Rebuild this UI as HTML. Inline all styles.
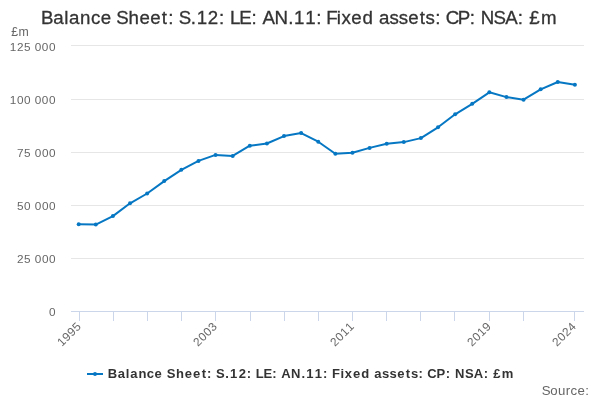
<!DOCTYPE html>
<html><head><meta charset="utf-8"><style>
html,body{margin:0;padding:0;background:#fff;width:600px;height:400px;overflow:hidden}
svg{display:block;will-change:transform}
text{font-family:"Liberation Sans",sans-serif}
</style></head><body>
<svg width="600" height="400" viewBox="0 0 600 400">
<rect width="600" height="400" fill="#fff"/>
<text x="40.88 53.36 64.33 69.06 80.04 90.99 100.74 111.55 116.31 128.53 139.54 150.37 161.86 168.28 174.05 178.81 190.84 196.65 207.86 219.03 224.81 229.92 239.35 251.53 257.30 262.49 274.59 288.13 293.95 305.16 316.33 322.10 326.22 336.73 341.53 351.36 362.38 373.37 378.97 389.49 398.67 408.16 419.64 425.61 435.24 441.01 445.81 457.80 469.72 475.48 480.72 493.59 505.22 517.70 523.47 529.28 540.88" y="23.9" font-size="18.69" fill="#333" stroke="#333" stroke-width="0.3">Balance Sheet: S.12: LE: AN.11: Fixed assets: CP: NSA: £m</text>
<text x="11.31 18.58" y="35.9" font-size="12.30" fill="#666">£m</text>
<g fill="none" stroke="#e6e6e6" stroke-width="1"><path d="M71 45.5 L584 45.5"/><path d="M71 99.5 L584 99.5"/><path d="M71 152.5 L584 152.5"/><path d="M71 205.5 L584 205.5"/><path d="M71 258.5 L584 258.5"/></g>
<g fill="none" stroke="#ccd6eb" stroke-width="1"><path d="M71 311.5 L584 311.5"/><path d="M79.5 311 L79.5 321"/><path d="M113.5 311 L113.5 321"/><path d="M147.5 311 L147.5 321"/><path d="M181.5 311 L181.5 321"/><path d="M215.5 311 L215.5 321"/><path d="M250.5 311 L250.5 321"/><path d="M284.5 311 L284.5 321"/><path d="M318.5 311 L318.5 321"/><path d="M352.5 311 L352.5 321"/><path d="M386.5 311 L386.5 321"/><path d="M420.5 311 L420.5 321"/><path d="M454.5 311 L454.5 321"/><path d="M489.5 311 L489.5 321"/><path d="M523.5 311 L523.5 321"/><path d="M574.5 311 L574.5 321"/></g>
<g fill="#666"><text x="9.77 16.88 24.00 30.97 34.67 41.79 48.91" y="51" font-size="11.75" >125 000</text><text x="9.77 16.88 24.00 30.97 34.67 41.79 48.91" y="104" font-size="11.75" >100 000</text><text x="16.98 24.10 31.07 34.77 41.89 49.00" y="157" font-size="11.75" >75 000</text><text x="16.98 24.10 31.07 34.77 41.89 49.00" y="210" font-size="11.75" >50 000</text><text x="16.98 24.10 31.07 34.77 41.89 49.00" y="263" font-size="11.75" >25 000</text><text x="48.98" y="316" font-size="11.75" >0</text></g>
<g fill="#666"><text transform="translate(81.9 327.1) rotate(-45)" x="-28.22 -21.10 -13.99 -6.87" y="0" font-size="11.86">1995</text><text transform="translate(217.9 327.1) rotate(-45)" x="-28.22 -21.10 -13.99 -6.87" y="0" font-size="11.86">2003</text><text transform="translate(354.9 327.1) rotate(-45)" x="-28.22 -21.10 -13.99 -6.87" y="0" font-size="11.86">2011</text><text transform="translate(491.9 327.1) rotate(-45)" x="-28.22 -21.10 -13.99 -6.87" y="0" font-size="11.86">2019</text><text transform="translate(576.9 327.1) rotate(-45)" x="-28.22 -21.10 -13.99 -6.87" y="0" font-size="11.86">2024</text></g>
<path d="M78.70 224.30 L95.81 224.60 L112.92 216.10 L130.03 203.30 L147.14 193.50 L164.25 181.10 L181.36 169.80 L198.47 160.90 L215.58 154.90 L232.69 155.90 L249.80 145.70 L266.91 143.50 L284.02 136.10 L301.13 133.10 L318.24 141.70 L335.35 153.70 L352.46 152.70 L369.57 147.90 L386.68 143.80 L403.79 142.10 L420.90 138.10 L438.01 127.30 L455.12 114.30 L472.23 103.80 L489.34 92.30 L506.45 97.10 L523.56 99.70 L540.67 89.30 L557.78 82.00 L574.89 84.70" fill="none" stroke="#0677c3" stroke-width="2" stroke-linejoin="round" stroke-linecap="round"/>
<g fill="#0677c3"><circle cx="78.70" cy="224.30" r="2"/><circle cx="95.81" cy="224.60" r="2"/><circle cx="112.92" cy="216.10" r="2"/><circle cx="130.03" cy="203.30" r="2"/><circle cx="147.14" cy="193.50" r="2"/><circle cx="164.25" cy="181.10" r="2"/><circle cx="181.36" cy="169.80" r="2"/><circle cx="198.47" cy="160.90" r="2"/><circle cx="215.58" cy="154.90" r="2"/><circle cx="232.69" cy="155.90" r="2"/><circle cx="249.80" cy="145.70" r="2"/><circle cx="266.91" cy="143.50" r="2"/><circle cx="284.02" cy="136.10" r="2"/><circle cx="301.13" cy="133.10" r="2"/><circle cx="318.24" cy="141.70" r="2"/><circle cx="335.35" cy="153.70" r="2"/><circle cx="352.46" cy="152.70" r="2"/><circle cx="369.57" cy="147.90" r="2"/><circle cx="386.68" cy="143.80" r="2"/><circle cx="403.79" cy="142.10" r="2"/><circle cx="420.90" cy="138.10" r="2"/><circle cx="438.01" cy="127.30" r="2"/><circle cx="455.12" cy="114.30" r="2"/><circle cx="472.23" cy="103.80" r="2"/><circle cx="489.34" cy="92.30" r="2"/><circle cx="506.45" cy="97.10" r="2"/><circle cx="523.56" cy="99.70" r="2"/><circle cx="540.67" cy="89.30" r="2"/><circle cx="557.78" cy="82.00" r="2"/><circle cx="574.89" cy="84.70" r="2"/></g>
<path d="M87 374 L103 374" stroke="#0677c3" stroke-width="2" fill="none"/>
<circle cx="95" cy="374" r="2" fill="#0677c3"/>
<text x="107.85 117.75 125.81 130.24 138.40 146.77 154.57 162.69 166.72 175.88 184.78 193.10 201.66 207.05 212.00 216.03 225.31 230.10 238.65 246.83 251.78 255.67 263.41 272.24 277.19 281.19 291.08 301.44 306.23 314.78 322.96 327.92 332.08 340.55 344.80 352.92 361.13 369.83 374.30 382.10 389.41 397.23 405.78 410.92 418.49 423.44 427.19 436.55 445.68 450.64 455.01 464.94 473.87 483.73 488.68 493.28 501.78" y="377.9" font-size="13.03" fill="#333" font-weight="bold">Balance Sheet: S.12: LE: AN.11: Fixed assets: CP: NSA: £m</text>
<text x="541.63 550.15 557.93 565.79 570.56 577.46 585.24" y="394.5" font-size="13.24" fill="#666">Source:</text>
</svg>
</body></html>
